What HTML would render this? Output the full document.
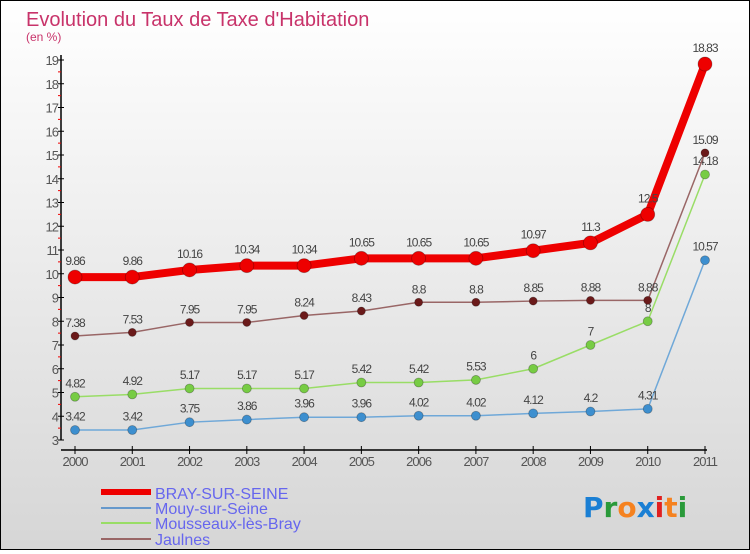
<!DOCTYPE html>
<html><head><meta charset="utf-8"><style>
html,body{margin:0;padding:0}
body{width:750px;height:550px;overflow:hidden;font-family:"Liberation Sans",sans-serif}
#wrap{position:relative;width:748px;height:548px;border:1px solid #000;background:linear-gradient(#ffffff,#d6d6d6)}
</style></head><body>
<div id="wrap">
<svg id="chart" width="748" height="548" xmlns="http://www.w3.org/2000/svg">
<text x="25" y="25" font-size="20" fill="#c8336a">Evolution du Taux de Taxe d'Habitation</text>
<text x="25" y="40" font-size="12" fill="#c8336a">(en %)</text>
<g id="axes"></g><g id="series"></g>
<g>
<line x1="100" y1="491" x2="150" y2="491" stroke="#ee0000" stroke-width="6"/>
<text x="154" y="498" font-size="16" fill="#6666ee">BRAY-SUR-SEINE</text>
<line x1="100" y1="507" x2="150" y2="507" stroke="#6699cc" stroke-width="2"/>
<text x="154" y="513" font-size="16" fill="#6666ee">Mouy-sur-Seine</text>
<line x1="100" y1="522" x2="150" y2="522" stroke="#99dd66" stroke-width="2"/>
<text x="154" y="528" font-size="16" fill="#6666ee">Mousseaux-lès-Bray</text>
<line x1="100" y1="538" x2="150" y2="538" stroke="#996666" stroke-width="2"/>
<text x="154" y="544" font-size="16" fill="#6666ee">Jaulnes</text>
</g>
<g font-size="28" font-family="'DejaVu Sans',sans-serif" font-weight="bold">
<text x="582" y="516"><tspan fill="#1a7fd4">P</tspan><tspan fill="#2a9a3a">r</tspan><tspan fill="#f58220">o</tspan><tspan fill="#1a7fd4">x</tspan><tspan fill="#e02020">i</tspan><tspan fill="#f58220">t</tspan><tspan fill="#2a9a3a">i</tspan></text>
</g>
</svg>
</div>
<script>
const years=[2000,2001,2002,2003,2004,2005,2006,2007,2008,2009,2010,2011];
const yTicks=[3,4,5,6,7,8,9,10,11,12,13,14,15,16,17,18,19];
const bray=[9.86,9.86,10.16,10.34,10.34,10.65,10.65,10.65,10.97,11.3,12.5,18.83];
const mouy=[3.42,3.42,3.75,3.86,3.96,3.96,4.02,4.02,4.12,4.2,4.31,10.57];
const mousseaux=[4.82,4.92,5.17,5.17,5.17,5.42,5.42,5.53,6,7,8,14.18];
const jaulnes=[7.38,7.53,7.95,7.95,8.24,8.43,8.8,8.8,8.85,8.88,8.88,15.09];
const NS="http://www.w3.org/2000/svg";
const X=i=>74+i*(630/11);
const Y=v=>439-(v-3)*23.75;
function mk(tag,attrs,parent){const e=document.createElementNS(NS,tag);for(const k in attrs)e.setAttribute(k,attrs[k]);parent.appendChild(e);return e;}
const ax=document.getElementById('axes');
let l=mk('line',{x1:60,y1:Y(19)-5,x2:60,y2:Y(3),stroke:'#000','stroke-width':1.5},ax);


yTicks.forEach(v=>{
  mk('line',{x1:57,y1:Y(v),x2:63,y2:Y(v),stroke:'#000'},ax);
  if(v<19) mk('line',{x1:57,y1:Y(v+0.5),x2:60,y2:Y(v+0.5),stroke:'#e00'},ax);
  const t=mk('text',{x:57,y:Y(v)+5,'font-size':13,fill:'#555','text-anchor':'end','letter-spacing':'-1'},ax);
  t.textContent=v;
  
  
});
l=mk('line',{x1:60,y1:449,x2:706,y2:449,stroke:'#000','stroke-width':1.5},ax);


years.forEach((yr,i)=>{
  mk('line',{x1:X(i),y1:445,x2:X(i),y2:453,stroke:'#000'},ax);
  const t=mk('text',{x:X(i),y:465,'font-size':13,fill:'#555','text-anchor':'middle','letter-spacing':'-1'},ax);
  t.textContent=yr;
  
  
});
const sg=document.getElementById('series');
function draw(name,data,color,w,r,dot){
  const g=mk('g',{},sg);
  
  
  const p=mk('polyline',{points:data.map((v,i)=>X(i)+','+Y(v)).join(' '),fill:'none',stroke:color,'stroke-width':w,'stroke-linejoin':'round'},g);
  
  
  data.forEach((v,i)=>{
    const c=mk('circle',{cx:X(i),cy:Y(v),r:r,fill:dot,stroke:'rgba(0,0,0,0.3)','stroke-width':0.8},g);
    
    
    const t=mk('text',{x:X(i),y:Y(v)-r-5,'font-size':12,fill:'#444','text-anchor':'middle','letter-spacing':'-1'},g);
    t.textContent=v;
    
    
  });
}
draw('mouy',mouy,'#6fa8d8',1.5,4.5,'#3d8fcf');
draw('mousseaux',mousseaux,'#99dd66',1.5,4.5,'#77cc44');
draw('jaulnes',jaulnes,'#996666',1.5,4,'#6b1a1a');
draw('bray',bray,'#ee0000',8,7,'#ee0000');
</script>
</body></html>
